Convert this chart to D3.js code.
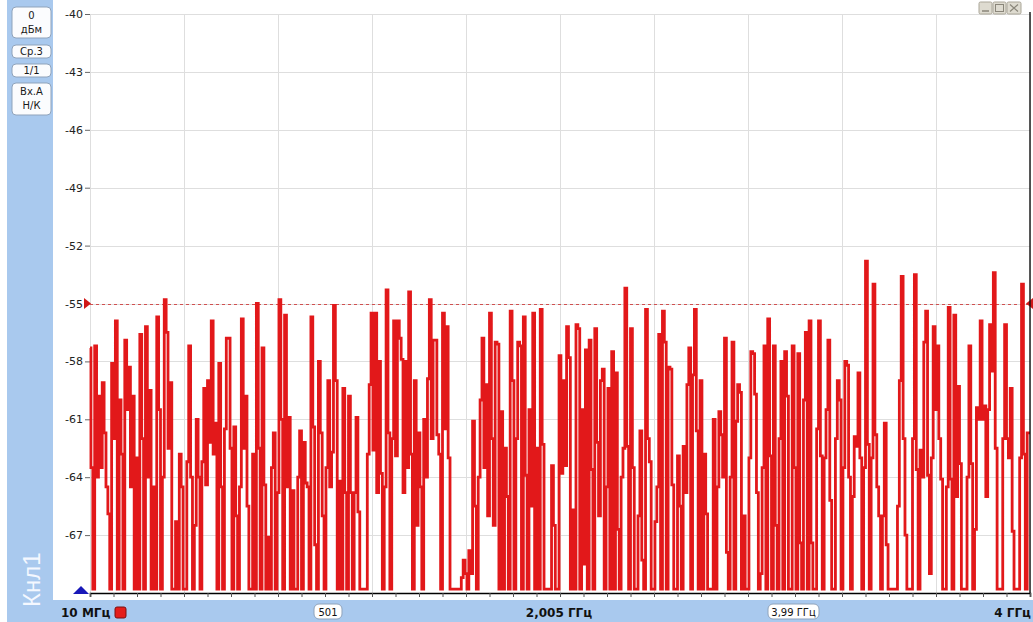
<!DOCTYPE html>
<html><head><meta charset="utf-8">
<script src="https://cdn.jsdelivr.net/npm/d3@7"></script>
<style>html,body{margin:0;padding:0;background:#fff;overflow:hidden}</style>
</head><body>
<svg id="c" width="1033" height="622"></svg>
<script>
// ---- data ----
const startMHz = 10, stopMHz = 4000;        // sweep span
const levelMin = -70, levelMax = -40;       // dBm range shown
const refLevel = -55;                       // dashed reference line
const yTicks = [-40, -43, -46, -49, -52, -55, -58, -61, -64, -67];
const panelBoxes = [["0", "дБм"], ["Ср.3"], ["1/1"], ["Вх.А", "Н/К"]];
const channelLabel = "Кнл1";
const startLabel = "10 МГц", pointsLabel = "501", centerLabel = "2,005 ГГц", markerLabel = "3,99 ГГц", stopLabel = "4 ГГц";
// 501 trace points, dBm
const levels = [
-57.3,-63.5,-69.8,-57.2,-64.0,-59.8,-63.5,-59.1,-61.7,-64.5,
-65.9,-69.8,-58.1,-62.0,-55.9,-69.8,-60.0,-62.8,-69.8,-56.9,
-60.5,-58.3,-64.5,-59.8,-69.8,-63.0,-69.8,-56.6,-62.0,-69.8,
-56.2,-64.0,-59.5,-69.8,-64.5,-69.8,-55.7,-60.5,-69.8,-64.0,
-54.8,-56.5,-62.5,-59.1,-69.8,-69.8,-66.3,-69.8,-62.8,-64.5,
-69.8,-69.8,-63.2,-57.2,-64.0,-69.8,-66.5,-61.0,-64.0,-69.8,
-63.2,-59.4,-64.4,-59.0,-62.2,-55.9,-62.8,-61.2,-69.8,-58.1,
-64.5,-69.8,-61.5,-56.8,-56.8,-62.5,-69.8,-61.4,-66.0,-69.8,
-64.5,-55.8,-62.5,-59.8,-65.5,-69.8,-69.8,-62.8,-69.8,-55.0,
-62.5,-69.8,-57.3,-64.4,-69.8,-67.1,-69.8,-63.5,-61.7,-69.8,
-64.8,-54.8,-61.0,-69.8,-55.6,-64.5,-60.9,-69.8,-64.7,-69.8,
-69.8,-64.0,-61.6,-69.8,-62.2,-64.3,-64.5,-69.8,-55.7,-61.4,
-67.5,-69.8,-58.0,-61.7,-66.0,-69.8,-63.5,-59.0,-64.5,-62.7,
-55.1,-59.0,-69.8,-64.2,-69.8,-59.4,-64.8,-69.8,-59.8,-64.8,
-69.8,-64.8,-60.9,-65.8,-69.8,-69.8,-69.8,-69.8,-62.8,-59.2,
-55.5,-62.6,-55.5,-64.8,-58.0,-63.8,-69.8,-64.5,-54.3,-61.7,
-69.8,-62.0,-55.9,-62.9,-55.9,-56.8,-57.9,-64.8,-58.0,-63.5,
-54.4,-62.8,-69.8,-59.0,-66.5,-61.7,-64.5,-69.8,-61.0,-64.0,
-58.9,-54.8,-62.0,-56.9,-56.9,-61.8,-62.8,-69.8,-55.5,-61.5,
-56.2,-63.0,-69.8,-69.8,-69.8,-69.8,-69.8,-69.8,-69.2,-68.3,
-69.0,-69.8,-67.8,-69.0,-61.1,-65.5,-69.8,-64.0,-60.0,-56.8,
-63.5,-59.2,-66.0,-55.5,-62.0,-66.5,-57.0,-57.1,-69.8,-60.6,
-69.8,-62.5,-65.0,-69.8,-55.4,-59.0,-69.8,-62.0,-57.0,-57.2,
-69.8,-55.7,-63.9,-69.8,-60.5,-65.5,-55.5,-69.8,-62.5,-69.8,
-55.3,-62.3,-69.8,-69.8,-69.8,-69.8,-63.4,-66.5,-69.8,-69.8,
-57.7,-63.8,-59.0,-63.4,-56.2,-57.8,-69.8,-65.7,-69.8,-56.1,
-56.3,-69.8,-60.5,-68.5,-57.4,-69.8,-56.9,-63.6,-69.8,-56.3,
-62.2,-66.0,-59.0,-58.4,-69.8,-64.5,-59.4,-69.8,-57.5,-69.8,
-58.6,-66.7,-69.8,-64.0,-62.5,-54.2,-62.4,-69.8,-56.3,-63.5,
-69.8,-69.8,-66.0,-61.6,-68.3,-69.8,-55.3,-62.0,-63.2,-69.8,
-69.8,-66.3,-64.5,-56.6,-69.8,-55.4,-57.0,-69.8,-58.3,-58.4,
-64.4,-69.8,-69.8,-62.9,-65.5,-69.8,-62.4,-64.8,-59.2,-57.3,
-69.8,-58.7,-55.3,-61.6,-69.8,-59.0,-69.8,-62.8,-65.9,-69.8,
-69.8,-69.8,-61.0,-69.8,-64.5,-60.6,-61.8,-64.0,-56.8,-67.9,
-69.8,-64.0,-57.0,-69.8,-61.1,-59.2,-59.6,-69.8,-66.0,-69.8,
-69.8,-63.0,-57.5,-57.6,-59.7,-64.8,-69.8,-69.0,-63.5,-57.2,
-69.8,-55.8,-62.9,-69.8,-57.2,-66.5,-69.8,-62.0,-58.0,-69.8,
-57.5,-59.8,-69.8,-69.8,-57.2,-63.5,-69.8,-57.6,-67.4,-69.8,
-60.0,-56.5,-69.8,-55.9,-67.4,-69.8,-69.8,-61.5,-55.9,-62.9,
-69.8,-63.0,-60.5,-56.9,-65.2,-69.8,-69.8,-62.0,-59.0,-60.0,
-69.8,-63.5,-58.0,-58.2,-64.0,-69.8,-65.0,-61.9,-62.4,-58.6,
-63.0,-69.8,-63.5,-52.8,-62.3,-69.8,-63.0,-54.0,-61.8,-64.5,
-66.0,-69.8,-66.0,-61.2,-67.5,-69.8,-69.8,-69.8,-69.8,-69.8,
-65.5,-59.0,-53.6,-62.0,-67.0,-69.8,-69.8,-69.8,-62.0,-53.5,
-63.6,-69.8,-62.6,-64.0,-57.0,-55.4,-63.9,-69.0,-63.0,-56.2,
-60.5,-57.2,-62.0,-64.1,-69.8,-69.8,-64.5,-55.2,-64.1,-69.8,
-55.6,-65.0,-59.3,-63.3,-69.8,-69.8,-69.8,-64.0,-57.2,-63.3,
-69.8,-66.7,-60.4,-61.0,-55.9,-61.0,-60.3,-65.0,-60.5,-56.1,
-58.5,-53.4,-62.5,-69.8,-69.8,-69.8,-62.0,-56.1,-62.0,-63.0,
-59.4,-66.8,-69.8,-69.8,-69.8,-63.0,-54.0,-62.8,-69.8,-61.7,
-61.7
];

// ---- layout ----
const plotL = 90, plotR = 1030, plotT = 14, plotB = 593;
const BLUE = "#a9c9ee";
const FONT = "'DejaVu Sans', Verdana, sans-serif";
const svg = d3.select("#c");

const x = d3.scaleLinear().domain([startMHz, stopMHz]).range([plotL, plotR]);
const y = d3.scaleLinear().domain([levelMin, levelMax]).range([plotB, plotT]);
const stepMHz = (stopMHz - startMHz) / (levels.length - 1);
const pts = levels.map((v, i) => [startMHz + i * stepMHz, v]);

// side panel + bottom bar
svg.append("rect").attr("x", 7).attr("y", 0).attr("width", 46).attr("height", 622).attr("fill", BLUE);
svg.append("rect").attr("x", 7).attr("y", 600).attr("width", 1026).attr("height", 22).attr("fill", BLUE);

// grid
const majorF = d3.range(0, 11).map(k => startMHz + k * (stopMHz - startMHz) / 10);
const minorF = d3.range(0, 41).map(k => startMHz + k * (stopMHz - startMHz) / 40);
svg.append("g").selectAll("line").data(majorF).join("line")
  .attr("x1", d => Math.round(x(d)) + 0.5).attr("x2", d => Math.round(x(d)) + 0.5).attr("y1", plotT).attr("y2", plotB)
  .attr("stroke", "#dedede").attr("stroke-width", 1);
svg.append("g").selectAll("line").data(yTicks).join("line")
  .attr("x1", plotL).attr("x2", plotR).attr("y1", d => Math.round(y(d)) + 0.5).attr("y2", d => Math.round(y(d)) + 0.5)
  .attr("stroke", "#dedede").attr("stroke-width", 1);

// y axis
const ya = svg.append("g").attr("transform", `translate(${plotL},0)`)
  .call(d3.axisLeft(y).tickValues(yTicks).tickSize(5).tickPadding(2).tickFormat(d => String(d)));
ya.select(".domain").remove();
ya.selectAll(".tick line").attr("stroke", "#666");
ya.selectAll(".tick text").attr("fill", "#222").style("font-family", FONT).style("font-size", "11px");

// reference line
const yr = y(refLevel);
svg.append("line").attr("x1", plotL).attr("x2", plotR).attr("y1", Math.round(yr) + 0.5).attr("y2", Math.round(yr) + 0.5)
  .attr("stroke", "#d05050").attr("stroke-width", 1).attr("stroke-dasharray", "3,3");

// trace
const line = d3.line().x(d => x(d[0])).y(d => y(d[1])).curve(d3.curveStep);
svg.append("path").datum(pts).attr("d", line).attr("fill", "none")
  .attr("stroke", "#e2181a").attr("stroke-width", 2.8).attr("stroke-linejoin", "miter");

// reference markers
svg.append("path").attr("d", `M${plotL - 6},${yr - 5.5}L${plotL + 1},${yr}L${plotL - 6},${yr + 5.5}Z`).attr("fill", "#d01818");
svg.append("path").attr("d", `M${plotR + 3},${yr - 5.5}L${plotR - 4},${yr}L${plotR + 3},${yr + 5.5}Z`).attr("fill", "#d01818");

// bottom axis
const xa = svg.append("g").attr("transform", `translate(0,${plotB})`)
  .call(d3.axisBottom(x).tickValues(minorF).tickSize(4).tickFormat(""));
xa.select(".domain").attr("stroke", "#000").attr("stroke-width", 1.6);
xa.selectAll(".tick line").attr("stroke", "#555");
// right border
svg.append("line").attr("x1", plotR).attr("x2", plotR).attr("y1", plotT - 2).attr("y2", plotB)
  .attr("stroke", "#111").attr("stroke-width", 1.4);

// start marker
svg.append("path").attr("d", `M${plotL - 17},${plotB + 1}L${plotL - 1},${plotB + 1}L${plotL - 9},${plotB - 7}Z`).attr("fill", "#1818b8");

// panel boxes
const boxY = [[7, 31], [45, 13], [64, 13], [83, 32]];
const pb = svg.append("g");
panelBoxes.forEach((lines, i) => {
  const [by, bh] = boxY[i];
  pb.append("rect").attr("x", 12).attr("y", by).attr("width", 39).attr("height", bh).attr("rx", 4)
    .attr("fill", "#fbfcfe").attr("stroke", "#8fa3bb").attr("stroke-width", 1);
  lines.forEach((t, j) => {
    pb.append("text").attr("x", 31.5).attr("y", lines.length === 1 ? by + bh - 3 : by + 12 + j * 14)
      .attr("text-anchor", "middle").attr("fill", "#1a1a1a")
      .style("font-family", FONT).style("font-size", "10px").text(t);
  });
});

// channel label (vertical)
svg.append("text").attr("transform", "translate(40,607) rotate(-90)")
  .attr("fill", "#f4f8ff").style("font-family", "'Liberation Sans', Arial, sans-serif").style("font-size", "24px")
  .text(channelLabel);

// bottom bar labels
const bt = svg.append("g").style("font-family", FONT);
bt.append("text").attr("x", 61).attr("y", 617).attr("font-weight", "bold").style("font-size", "12px").attr("fill", "#111").text(startLabel);
bt.append("rect").attr("x", 115).attr("y", 607).attr("width", 11).attr("height", 11).attr("rx", 2)
  .attr("fill", "#e41d1a").attr("stroke", "#7a1010").attr("stroke-width", 1);
bt.append("rect").attr("x", 314).attr("y", 604).attr("width", 28).attr("height", 15).attr("rx", 5)
  .attr("fill", "#fff").attr("stroke", "#8fa3bb");
bt.append("text").attr("x", 328).attr("y", 615.5).attr("text-anchor", "middle").style("font-size", "10px").attr("fill", "#111").text(pointsLabel);
bt.append("text").attr("x", 559).attr("y", 617).attr("text-anchor", "middle").attr("font-weight", "bold").style("font-size", "12px").attr("fill", "#111").text(centerLabel);
bt.append("rect").attr("x", 768).attr("y", 604).attr("width", 51).attr("height", 15).attr("rx", 5)
  .attr("fill", "#fff").attr("stroke", "#8fa3bb");
bt.append("text").attr("x", 793.5).attr("y", 615.5).attr("text-anchor", "middle").style("font-size", "10px").attr("fill", "#111").text(markerLabel);
bt.append("text").attr("x", 1031).attr("y", 617).attr("text-anchor", "end").attr("font-weight", "bold").style("font-size", "12px").attr("fill", "#111").text(stopLabel);

// window buttons
const wb = svg.append("g");
[[979, 13], [993, 13], [1007, 14]].forEach(([bx, bw]) => {
  wb.append("rect").attr("x", bx).attr("y", 2).attr("width", bw).attr("height", 12).attr("rx", 1.5)
    .attr("fill", "#dedbd0").attr("stroke", "#aaa698");
});
wb.append("line").attr("x1", 982).attr("x2", 989).attr("y1", 11).attr("y2", 11).attr("stroke", "#8a867a").attr("stroke-width", 1.5);
wb.append("rect").attr("x", 995.5).attr("y", 4.5).attr("width", 8).attr("height", 7).attr("fill", "none").attr("stroke", "#8a867a");
wb.append("path").attr("d", "M1010,4.5L1018,11.5M1018,4.5L1010,11.5").attr("stroke", "#8a867a").attr("stroke-width", 1.2);
</script>
</body></html>
